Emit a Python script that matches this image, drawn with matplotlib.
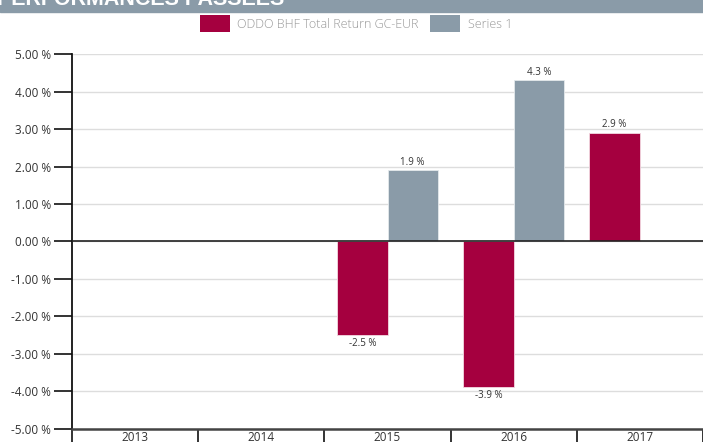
import numpy as np
import matplotlib
matplotlib.use("Agg")
import matplotlib.pyplot as plt
from matplotlib.patches import Patch

# data
years = ["2013", "2014", "2015", "2016", "2017"]
fund = [np.nan, np.nan, -2.5, -3.9, 2.9]
series1 = [np.nan, np.nan, 1.9, 4.3, np.nan]
yticks = [-5, -4, -3, -2, -1, 0, 1, 2, 3, 4, 5]
fund_name = "ODDO BHF Total Return GC-EUR"
series_name = "Series 1"
title = "PERFORMANCES PASSÉES"

RED = "#a5003f"
GREY = "#8a9ba8"

plt.rcParams["font.family"] = ["Open Sans", "DejaVu Sans"]

fig = plt.figure(figsize=(7.03, 4.42), dpi=100)
ax = fig.add_axes([72 / 703, 1 - 428.5 / 442, 1 - 72 / 703, (428.5 - 54.3) / 442])

x = np.arange(len(years))
w = 0.4
b1 = ax.bar(x - w / 2, fund, w, color=RED, edgecolor="#f3d9e2", linewidth=0.6, zorder=3)
b2 = ax.bar(x + w / 2, series1, w, color=GREY, edgecolor="#e4e9ec", linewidth=0.6, zorder=3)


def labels(vals):
    return ["" if np.isnan(v) else f"{v:.1f} %" for v in vals]


ax.bar_label(b1, labels=labels(fund), padding=2, fontsize=7, color="#333333")
ax.bar_label(b2, labels=labels(series1), padding=2, fontsize=7, color="#333333")

ax.set_xlim(-0.5, len(years) - 0.5)
ax.set_ylim(-5, 5)
ax.set_yticks(yticks)
ax.set_yticklabels([f"{t:.2f} %" for t in yticks])
ax.yaxis.grid(True, color="#dddddd", linewidth=1, zorder=0)
ax.axhline(0, color="#222222", linewidth=1.2, zorder=4)

# category labels at centres, separators at boundaries
ax.set_xticks(x)
ax.set_xticklabels(years)
ax.set_xticks(np.arange(len(years) + 1) - 0.5, minor=True)
ax.tick_params(axis="x", which="major", length=0, pad=1.5, labelsize=8.5, labelcolor="#333333")
ax.tick_params(axis="x", which="minor", length=9, width=1.2, color="#111111", direction="out")
ax.tick_params(axis="y", length=13, width=1.2, color="#111111", pad=2, labelsize=8.5,
               labelcolor="#333333")

for s in ["top", "right"]:
    ax.spines[s].set_visible(False)
ax.spines["left"].set_linewidth(1.3)
ax.spines["left"].set_color("#111111")
ax.spines["bottom"].set_linewidth(1.8)
ax.spines["bottom"].set_color("#444444")

# banner at the top, title mostly cut off by the top edge
fig.patches.append(plt.Rectangle((0, 1 - 11.5 / 442), 1, 11.5 / 442, transform=fig.transFigure,
                                 color=GREY, zorder=0))
fig.text(-3 / 703, 1 - 5 / 442, title, color="white", fontsize=15.5, fontweight="bold",
         family=["Liberation Sans", "DejaVu Sans"], va="baseline")

handles = [Patch(facecolor=RED, edgecolor="none"), Patch(facecolor=GREY, edgecolor="none")]
fig.legend(handles, [fund_name, series_name], loc="center", ncol=2,
           bbox_to_anchor=(356 / 703, 1 - 23.5 / 442), frameon=False,
           prop={"family": ["Open Sans", "DejaVu Sans"], "size": 9, "weight": "light"},
           labelcolor="#999999", handlelength=2.4, handleheight=1.7, handletextpad=0.6,
           columnspacing=0.9)

fig.savefig("out.png", dpi=100)
